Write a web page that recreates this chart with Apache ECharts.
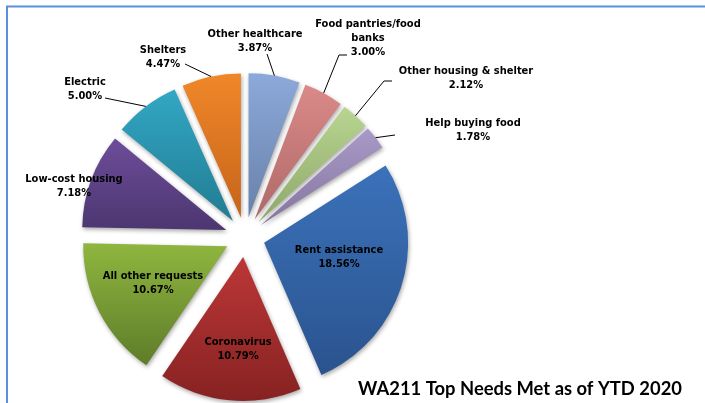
<!DOCTYPE html>
<html>
<head>
<meta charset="utf-8">
<script src="https://cdn.jsdelivr.net/npm/echarts@6/dist/echarts.min.js"></script>
<style>
html,body{margin:0;padding:0;background:#ffffff;}
#chart{width:705px;height:403px;}
</style>
</head>
<body>
<div id="chart"></div>
<script>
// ---- data ----
const categories = ['Other healthcare', 'Food pantries/food banks', 'Other housing & shelter', 'Help buying food',
  'Rent assistance', 'Coronavirus', 'All other requests', 'Low-cost housing', 'Electric', 'Shelters'];
const values = [3.87, 3.00, 2.12, 1.78, 18.56, 10.79, 10.67, 7.18, 5.00, 4.47];
const titleText = 'WA211 Top Needs Met as of YTD 2020';

// ---- styling ----
const gradients = [
  ['#8BA9DA', '#6981A9'],
  ['#DA8A88', '#AE6968'],
  ['#B8D590', '#8EA769'],
  ['#A899C8', '#85769F'],
  ['#3B72BA', '#2A538E'],
  ['#BC3737', '#872222'],
  ['#8FB63F', '#5E7C29'],
  ['#6D4D9A', '#4C3670'],
  ['#33A7C4', '#217C92'],
  ['#F08729', '#C6641A']
];
const hasLeader = [true, true, true, true, false, false, false, false, true, true];
// label block centres and leader-line ends (layout only)
const labelPlacement = [
  {x: 255, y: 41, end: [267, 54], elbow: [267, 54]},
  {x: 368, y: 38, end: [347, 55], elbow: [339, 55]},
  {x: 466, y: 78, end: [392, 81], elbow: [384, 81]},
  {x: 473, y: 130, end: [395, 135], elbow: [395, 135]},
  {x: 339, y: 257},
  {x: 238, y: 349},
  {x: 153, y: 283},
  {x: 74, y: 186},
  {x: 85, y: 89, end: [105, 98], elbow: [105, 98]},
  {x: 163, y: 57, end: [185, 64], elbow: [185, 64]}
];

const chart = echarts.init(document.getElementById('chart'), null, {renderer: 'canvas'});

function grad(i) {
  return {
    type: 'linear', x: 0, y: 0, x2: 0, y2: 1,
    colorStops: [{offset: 0, color: gradients[i][0]}, {offset: 1, color: gradients[i][1]}]
  };
}

const labelFont = '"DejaVu Sans Condensed", "DejaVu Sans", sans-serif';
const pieCenter = [245, 237];
const pieRadius = 144;
const explode = 20;

chart.setOption({
  animation: false,
  backgroundColor: '#ffffff',
  graphic: [
    {
      type: 'rect', silent: true,
      shape: {x: 7, y: 6.5, width: 760, height: 460},
      style: {fill: 'none', stroke: '#5B8FD9', lineWidth: 2}
    },
    {
      type: 'text', silent: true, left: 358, top: 380,
      style: {text: titleText, fill: '#000000', font: 'bold 18.4px Lato, "Open Sans", sans-serif'}
    }
  ],
  series: [
    {
      // visible exploded slices
      type: 'pie',
      center: pieCenter,
      radius: pieRadius,
      startAngle: 90,
      clockwise: true,
      selectedMode: 'multiple',
      selectedOffset: explode,
      silent: true,
      label: {show: false},
      labelLine: {show: false},
      itemStyle: {
        borderWidth: 0,
        shadowBlur: 4,
        shadowColor: 'rgba(0,0,0,0.35)',
        shadowOffsetX: 1,
        shadowOffsetY: 2
      },
      select: {itemStyle: {borderWidth: 0}},
      emphasis: {disabled: true},
      data: categories.map(function (name, i) {
        return {name: name, value: values[i], selected: true, itemStyle: {color: grad(i)}};
      })
    },
    {
      // label carrier: same slices, transparent, at the exploded outer edge
      type: 'pie',
      center: pieCenter,
      radius: pieRadius + explode,
      startAngle: 90,
      clockwise: true,
      silent: true,
      z: 5,
      avoidLabelOverlap: false,
      itemStyle: {color: 'rgba(0,0,0,0)', borderWidth: 0},
      emphasis: {disabled: true},
      label: {
        position: 'outside',
        fontFamily: labelFont,
        fontWeight: 'bold',
        fontSize: 11,
        lineHeight: 14,
        color: '#000000',
        formatter: function (p) {
          return p.name.replace('food banks', 'food\nbanks') + '\n' + p.value.toFixed(2) + '%';
        }
      },
      labelLine: {length: 10, length2: 8, lineStyle: {color: '#000000', width: 1, opacity: 1}},
      labelLayout: function (params) {
        const pl = labelPlacement[params.dataIndex];
        const out = {x: pl.x, y: pl.y, align: 'center', verticalAlign: 'middle'};
        if (pl.end && params.labelLinePoints) {
          const p0 = params.labelLinePoints[0];
          out.labelLinePoints = [[p0[0], p0[1]], pl.elbow, pl.end];
        }
        return out;
      },
      data: categories.map(function (name, i) {
        return {name: name, value: values[i], labelLine: {show: hasLeader[i]}};
      })
    }
  ]
});
</script>
</body>
</html>
